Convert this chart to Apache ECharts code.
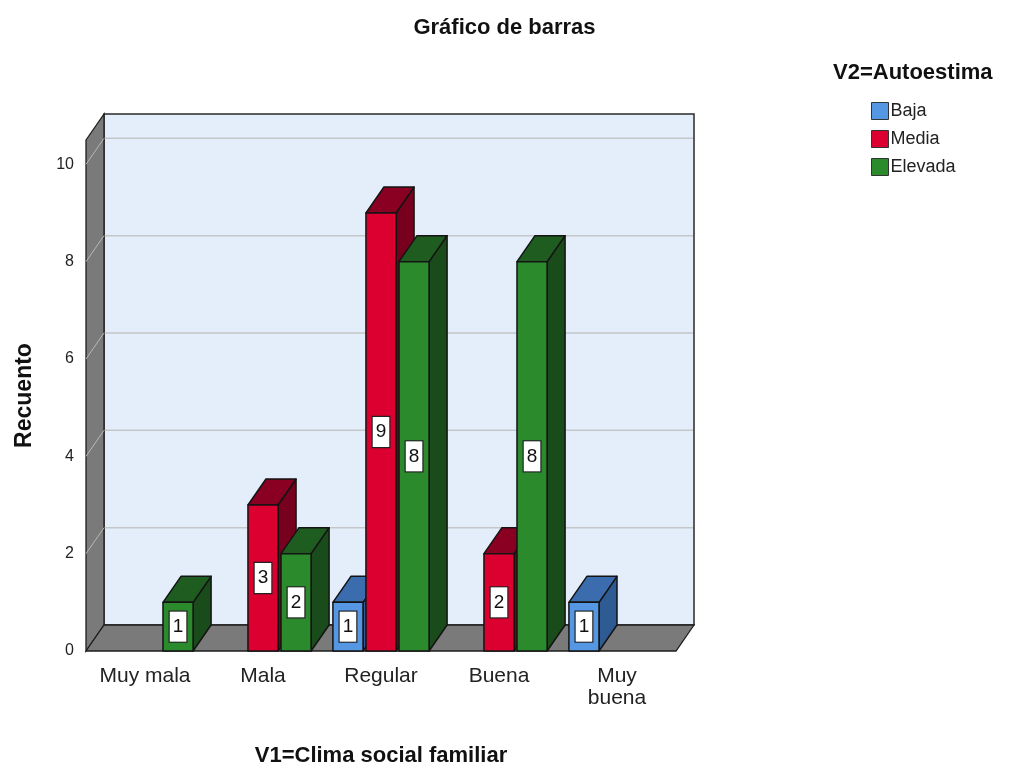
<!DOCTYPE html>
<html>
<head>
<meta charset="utf-8">
<script src="https://cdn.jsdelivr.net/npm/echarts@6/dist/echarts.min.js"></script>
<style>
  html, body { margin: 0; padding: 0; background: #fff; }
  #chart { width: 1009px; height: 772px; }
</style>
</head>
<body>
<div id="chart"></div>
<script>
// datos
const categories = ['Muy mala', 'Mala', 'Regular', 'Buena', 'Muy\nbuena'];
const seriesNames = ['Baja', 'Media', 'Elevada'];
const baja = [0, 0, 1, 0, 1];
const media = [0, 3, 9, 2, 0];
const elevada = [1, 2, 8, 8, 0];
const yTicks = [0, 2, 4, 6, 8, 10];

const FONT = "'Liberation Sans', Arial, sans-serif";
// profundidad del efecto 3D
const DX = 18, DY = -26;

const palette = [
    { front: '#5597e2', top: '#3a6cae', side: '#2f5b95' },
    { front: '#dc0030', top: '#8a0022', side: '#76001d' },
    { front: '#2a8a2c', top: '#1e5c1f', side: '#1a4b1a' }
];

function renderFrame(params, api) {
    const cs = params.coordSys;
    const x = cs.x, y = cs.y, r = cs.x + cs.width, b = cs.y + cs.height;
    const children = [];
    // pared del fondo
    children.push({
        type: 'rect',
        shape: { x: x + DX, y: y + DY, width: cs.width, height: cs.height },
        style: { fill: '#e3eefa', stroke: '#2a2a2a', lineWidth: 1.5 }
    });
    // lineas de cuadricula
    yTicks.filter(v => v > 0).forEach(v => {
        const yv = api.coord([0, v])[1];
        children.push({
            type: 'line',
            shape: { x1: x + DX, y1: yv + DY, x2: r + DX - 1, y2: yv + DY },
            style: { stroke: '#c4c6c8', lineWidth: 1.5 }
        });
    });
    // pared izquierda
    children.push({
        type: 'polygon',
        shape: { points: [[x, y], [x + DX, y + DY], [x + DX, b + DY], [x, b]] },
        style: { fill: '#7a7a7a', stroke: '#1e1e1e', lineWidth: 1.3 }
    });
    yTicks.filter(v => v > 0).forEach(v => {
        const yv = api.coord([0, v])[1];
        children.push({
            type: 'line',
            shape: { x1: x, y1: yv, x2: x + DX, y2: yv + DY },
            style: { stroke: '#b8b8b8', lineWidth: 1 }
        });
    });
    // piso
    children.push({
        type: 'polygon',
        shape: { points: [[x, b], [x + DX, b + DY], [r + DX, b + DY], [r, b]] },
        style: { fill: '#7a7a7a', stroke: '#1e1e1e', lineWidth: 1.3 }
    });
    return { type: 'group', children: children };
}

function makeBar(k) {
    const col = palette[k];
    return function (params, api) {
        const idx = api.value(0), v = api.value(1);
        if (!v) return { type: 'group', children: [] };
        const base = api.coord([idx, 0]);
        const top = api.coord([idx, v]);
        const band = api.size([1, 0])[0];
        const bw = band * 0.255, step = band * 0.28;
        const cx = base[0] + (k - 1) * step;
        const x0 = cx - bw / 2, x1 = cx + bw / 2, y0 = top[1], y1 = base[1];
        const stroke = { stroke: '#141414', lineWidth: 1.5, lineJoin: 'round' };
        return {
            type: 'group',
            children: [
                { type: 'polygon',
                  shape: { points: [[x1, y0], [x1 + DX, y0 + DY], [x1 + DX, y1 + DY], [x1, y1]] },
                  style: Object.assign({ fill: col.side }, stroke) },
                { type: 'polygon',
                  shape: { points: [[x0, y0], [x0 + DX, y0 + DY], [x1 + DX, y0 + DY], [x1, y0]] },
                  style: Object.assign({ fill: col.top }, stroke) },
                { type: 'rect',
                  shape: { x: x0, y: y0, width: bw, height: y1 - y0 },
                  style: Object.assign({ fill: col.front }, stroke) },
                { type: 'text',
                  x: cx, y: (y0 + y1) / 2,
                  style: {
                      text: String(v), fontFamily: FONT, fontSize: 19, fill: '#111',
                      align: 'center', verticalAlign: 'middle',
                      backgroundColor: '#fff', borderColor: '#222', borderWidth: 1.2,
                      padding: [6, 3, 5, 3]
                  } }
            ]
        };
    };
}

const seriesData = [baja, media, elevada];

const chart = echarts.init(document.getElementById('chart'));
const option = {
    backgroundColor: '#fff',
    animation: false,
    title: [
        { text: 'Gráfico de barras', left: 'center', top: 12,
          textStyle: { fontFamily: FONT, fontSize: 22, fontWeight: 'bold', color: '#111' } },
        { text: 'V2=Autoestima', left: 828, top: 57,
          textStyle: { fontFamily: FONT, fontSize: 22, fontWeight: 'bold', color: '#111' } }
    ],
    legend: {
        orient: 'vertical', left: 866, top: 97,
        itemWidth: 17, itemHeight: 17, itemGap: 10,
        icon: 'rect',
        data: seriesNames,
        textStyle: { fontFamily: FONT, fontSize: 18, color: '#222', padding: [0, 0, 0, -3] },
        itemStyle: { borderColor: '#333', borderWidth: 1 }
    },
    grid: { left: 86, right: 333, top: 140, bottom: 119 },
    xAxis: {
        type: 'category',
        data: categories,
        name: 'V1=Clima social familiar',
        nameLocation: 'middle',
        nameGap: 94,
        nameTextStyle: { fontFamily: FONT, fontSize: 22, fontWeight: 'bold', color: '#111' },
        axisLine: { show: false },
        axisTick: { show: false },
        axisLabel: { fontFamily: FONT, fontSize: 21, color: '#222', margin: 14, lineHeight: 22, interval: 0 }
    },
    yAxis: {
        type: 'value',
        min: 0, max: 10.5, interval: 2,
        name: 'Recuento',
        nameLocation: 'middle',
        nameGap: 50,
        nameTextStyle: { fontFamily: FONT, fontSize: 23, fontWeight: 'bold', color: '#111' },
        axisLine: { show: false },
        axisTick: { show: false },
        splitLine: { show: false },
        axisLabel: {
            fontFamily: FONT, fontSize: 16, color: '#222', margin: 12,
            padding: [6, 0, 0, 0],
            formatter: v => (yTicks.indexOf(v) >= 0 ? String(v) : '')
        }
    },
    series: [
        { type: 'custom', name: 'marco', silent: true, z: 1,
          renderItem: renderFrame, data: [[0, 0]] }
    ].concat(seriesNames.map((name, k) => ({
        type: 'custom',
        name: name,
        z: 2 + k,
        itemStyle: { color: palette[k].front, borderColor: '#333' },
        renderItem: makeBar(k),
        data: categories.map((c, i) => [i, seriesData[k][i]])
    })))
};
option && chart.setOption(option);
</script>
</body>
</html>
